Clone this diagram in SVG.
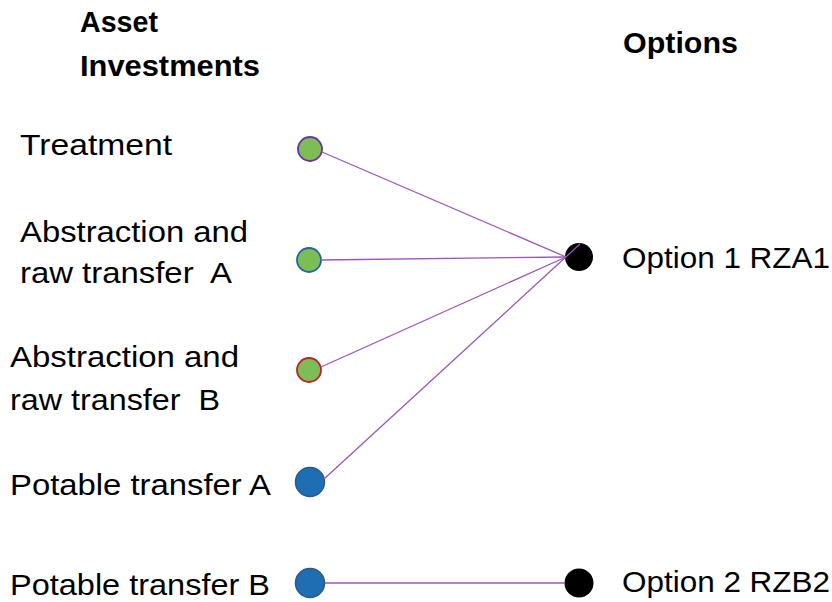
<svg xmlns="http://www.w3.org/2000/svg" width="832" height="602" viewBox="0 0 832 602">
<style>
text{font-family:"Liberation Sans",Arial,sans-serif;fill:#000}
.h{font-weight:bold;font-size:29px}
.t{font-size:29px}
.g{fill:#7cbd56;stroke-width:1.8}
.p{fill:#1f6db3;stroke:#2a5a8a;stroke-width:1.5}
.o{fill:#000}
.c line{stroke:#9b55bd;stroke-width:1.3}
</style>
<rect width="832" height="602" fill="#fff"/>
<g id="headers">
<text class="h" x="80" y="32" textLength="78" lengthAdjust="spacingAndGlyphs">Asset</text>
<text class="h" x="80" y="76" textLength="180" lengthAdjust="spacingAndGlyphs">Investments</text>
<text class="h" x="623" y="53" textLength="115" lengthAdjust="spacingAndGlyphs">Options</text>
</g>
<g id="n-treatment">
<circle class="g" cx="310" cy="149" r="12" stroke="#7030a0"/>
<text class="t" x="20" y="155" textLength="152" lengthAdjust="spacingAndGlyphs">Treatment</text>
</g>
<g id="n-abs-a">
<circle class="g" cx="309" cy="260" r="12" stroke="#2364a8"/>
<text class="t" x="20" y="242" textLength="228" lengthAdjust="spacingAndGlyphs">Abstraction and</text>
<text class="t" x="20" y="283" textLength="212" lengthAdjust="spacingAndGlyphs" xml:space="preserve">raw transfer  A</text>
</g>
<g id="n-abs-b">
<circle class="g" cx="309" cy="370" r="12" stroke="#c0202a"/>
<text class="t" x="10" y="367" textLength="229" lengthAdjust="spacingAndGlyphs">Abstraction and</text>
<text class="t" x="10" y="410" textLength="210" lengthAdjust="spacingAndGlyphs" xml:space="preserve">raw transfer  B</text>
</g>
<g id="n-pot-a">
<circle class="p" cx="310" cy="482" r="14.5"/>
<text class="t" x="10" y="495" textLength="261" lengthAdjust="spacingAndGlyphs">Potable transfer A</text>
</g>
<g id="n-pot-b">
<circle class="p" cx="310" cy="583" r="14.5"/>
<text class="t" x="10" y="595" textLength="260" lengthAdjust="spacingAndGlyphs">Potable transfer B</text>
</g>
<g id="n-opt1">
<circle class="o" cx="579" cy="257" r="14"/>
<text class="t" x="622" y="268" textLength="208" lengthAdjust="spacingAndGlyphs">Option 1 RZA1</text>
</g>
<g id="n-opt2">
<circle class="o" cx="579" cy="583" r="14.5"/>
<text class="t" x="622" y="592" textLength="208" lengthAdjust="spacingAndGlyphs">Option 2 RZB2</text>
</g>
<g id="connectors" class="c">
<line x1="322" y1="152" x2="566" y2="257"/>
<line x1="321" y1="260" x2="566" y2="257"/>
<line x1="321" y1="367" x2="566" y2="257"/>
<line x1="324" y1="479" x2="580" y2="244"/>
<line x1="325" y1="583" x2="565" y2="583"/>
</g>
</svg>
